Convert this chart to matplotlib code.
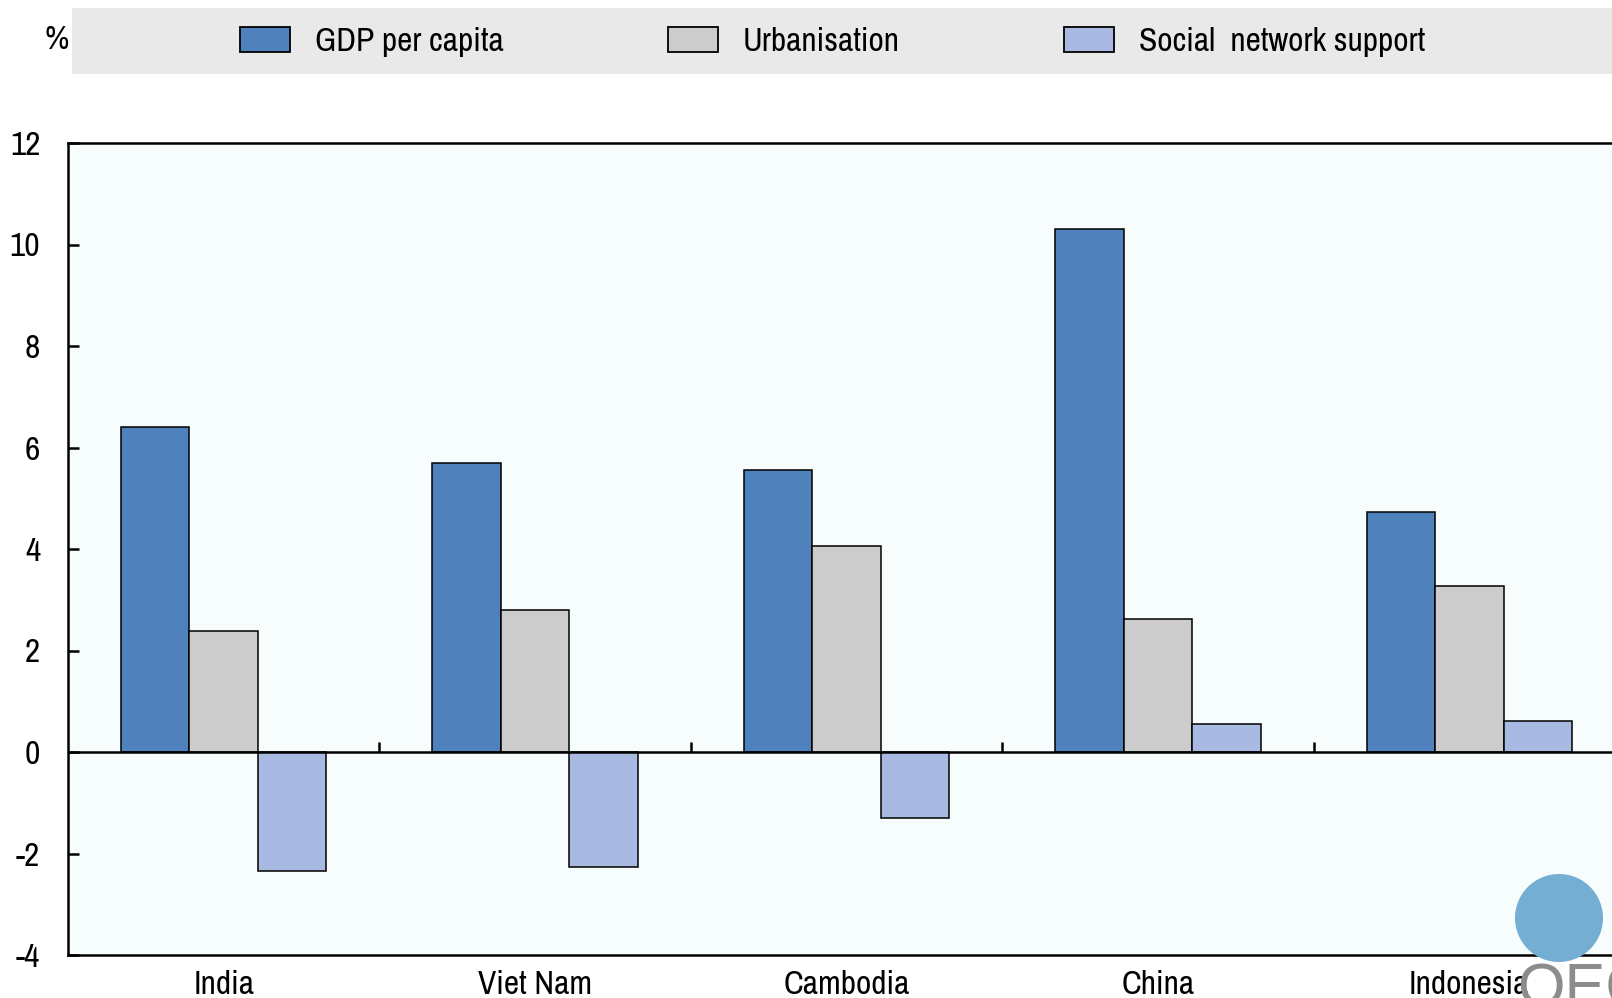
import matplotlib
matplotlib.use("Agg")
import matplotlib.pyplot as plt
import numpy as np
from matplotlib.patches import Rectangle, Ellipse

plt.rcParams['font.family'] = ['Liberation Sans Narrow', 'Arial Narrow', 'Archivo Narrow',
                               'Roboto Condensed', 'DejaVu Sans']
plt.rcParams['axes.unicode_minus'] = False

# data
countries = ['India', 'Viet Nam', 'Cambodia', 'China', 'Indonesia']
gdp_per_capita = [6.41, 5.70, 5.55, 10.31, 4.73]
urbanisation = [2.39, 2.80, 4.05, 2.63, 3.28]
social_network = [-2.35, -2.27, -1.30, 0.56, 0.62]
series_names = ['GDP per capita', 'Urbanisation', 'Social  network support']
colors = ['#4F81BD', '#CCCCCC', '#A8B9E2']

W, H = 1612, 998
fig = plt.figure(figsize=(W / 100, H / 100), dpi=100)
# plot area runs slightly past the right edge, as in the original
ax = fig.add_axes([68 / W, 1 - 955 / H, (1625 - 68) / W, (955 - 143) / H])
ax.set_facecolor('#F7FDFD')

x = np.arange(len(countries))
w = 0.22
for i, (vals, name, c) in enumerate(zip([gdp_per_capita, urbanisation, social_network], series_names, colors)):
    ax.bar(x + (i - 1) * w, vals, width=w, color=c, edgecolor='black', linewidth=1.1, label=name, zorder=3)

# zero line with small ticks between the country groups
ax.axhline(0, color='black', lw=1.8, zorder=4)
bounds = np.arange(len(countries) - 1) + 0.5
ax.vlines(bounds, 0, 0.2, color='black', lw=1.8, zorder=4)

ax.set_xlim(-0.5, 4.5)
ax.set_ylim(-4, 12)
ax.set_yticks(np.arange(-4, 13, 2))
ax.set_xticks(x)
ax.set_xticklabels(countries)
ax.tick_params(axis='x', length=0, pad=11, labelsize=24)
ax.tick_params(axis='y', direction='in', length=8, width=1.8, pad=20, labelsize=24)
for s in ax.spines.values():
    s.set_linewidth(1.8)
ax.spines['right'].set_visible(False)

# legend band
fig.patches.append(Rectangle((72 / W, 1 - 74 / H), 1 - 72 / W, 66 / H, transform=fig.transFigure,
                             facecolor='#E9E9E9', edgecolor='none', zorder=0))
fig.text(57 / W, 1 - 40 / H, '%', fontsize=24, ha='center', va='center')
leg = fig.legend(loc='center left', bbox_to_anchor=(240 / W, 1 - 42 / H), ncol=3, frameon=False,
                 fontsize=24, borderpad=0, borderaxespad=0, handlelength=1.5, handleheight=0.75,
                 handletextpad=0.75, columnspacing=4.92)
for p in leg.get_patches():
    p.set_linewidth(1.3)

# OECD logo (approximation)
fig.patches.append(Ellipse((1559 / W, 1 - 918 / H), 88 / W, 88 / H, transform=fig.transFigure,
                           facecolor='#74AED3', edgecolor='none', zorder=5))
fig.text(1517 / W, -0.022, 'OECD', fontsize=44, color='#8C8C8C', ha='left', va='bottom',
         family=['Liberation Sans', 'DejaVu Sans'], zorder=1)

fig.savefig('out.png', dpi=100, facecolor='white')
